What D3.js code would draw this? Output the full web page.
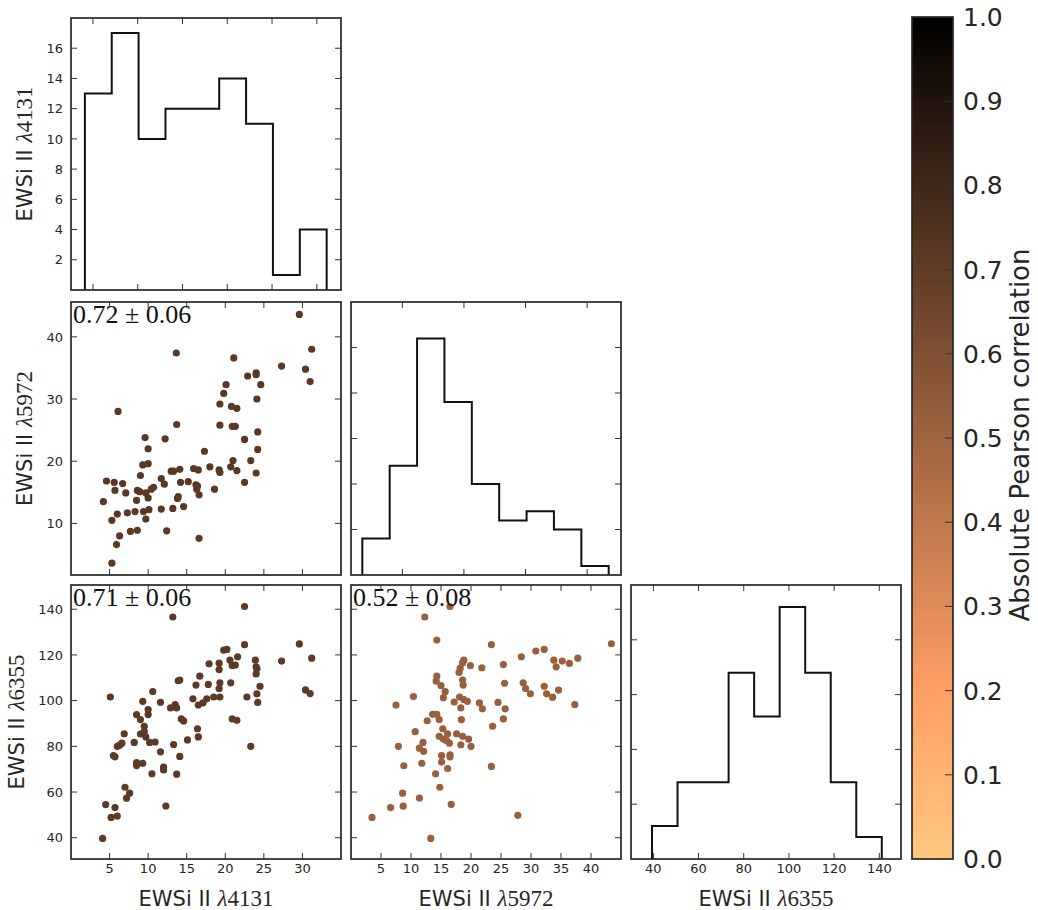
<!DOCTYPE html>
<html><head><meta charset="utf-8">
<script src="https://cdn.jsdelivr.net/npm/d3@7"></script>
<style>body{margin:0;background:#fff}svg{display:block}</style>
</head><body><svg id="c" width="1038" height="910"></svg>
<script>
// ---------------- DATA ----------------
const varNames = ["4131", "5972", "6355"];

// histogram bin edges and counts (diagonal)
const edges4131 = [4.1, 7.1, 10.1, 13.1, 16.1, 19.1, 22.1, 25.1, 28.1, 31.1];
const counts4131 = [13, 17, 10, 12, 12, 14, 11, 1, 4];
const edges5972 = [3.5, 7.94, 12.39, 16.83, 21.28, 25.72, 30.17, 34.61, 39.06, 43.5];
const counts5972 = [4, 12, 26, 19, 10, 6, 7, 5, 1];
const edges6355 = [39.4, 50.7, 62.0, 73.3, 84.6, 95.9, 107.2, 118.5, 129.8, 141.1];
const counts6355 = [3, 7, 7, 17, 13, 23, 17, 7, 2];

// scatter: EWSi II 5972 vs 4131
const pts5972v4131 = [
 [29.6,43.6],[31.2,38.0],[30.4,34.8],[31.0,32.8],[27.3,35.3],[13.65,37.4],[21.1,36.6],[24.0,34.2],
 [24.0,33.9],[22.9,33.7],[24.6,32.3],[20.1,32.3],[19.8,30.9],[24.1,30.0],[19.3,29.2],[20.8,28.8],
 [21.5,28.5],[19.3,25.8],[20.9,25.6],[21.3,25.6],[13.7,25.9],[24.2,24.7],[22.5,23.5],[12.2,23.6],
 [9.6,23.8],[10.0,22.0],[24.2,21.9],[17.3,21.6],[23.3,20.1],[21.0,20.1],[20.7,19.1],[21.5,18.5],
 [18.0,19.1],[19.2,18.6],[19.3,18.2],[24.0,18.1],[15.9,18.8],[16.5,18.6],[14.1,18.7],[13.0,18.4],
 [13.3,18.4],[9.3,19.4],[10.0,19.6],[11.7,17.2],[9.0,17.7],[12.1,16.3],[14.2,16.6],[15.2,16.7],
 [16.2,16.2],[22.5,16.6],[18.6,15.5],[16.3,15.5],[16.6,14.6],[13.9,14.3],[13.8,14.0],[10.7,15.8],
 [10.4,15.5],[8.6,15.3],[8.9,15.1],[9.7,14.9],[10.0,14.1],[8.5,13.7],[4.6,16.8],[5.6,16.6],
 [6.7,16.4],[5.7,15.3],[7.1,14.9],[4.2,13.5],[6.0,11.5],[7.3,11.7],[8.3,11.9],[9.4,11.9],
 [10.1,12.2],[11.7,12.3],[13.2,12.4],[14.6,12.7],[5.3,10.5],[9.7,10.7],[7.7,8.7],[8.6,8.9],
 [12.4,8.8],[6.3,8.0],[5.9,6.6],[16.6,7.6],[6.1,28.0],[5.3,3.6],[16.4,16.0]
];
// scatter: EWSi II 6355 vs 4131
const pts6355v4131 = [
 [22.5,141.2],[13.2,136.6],[29.6,124.8],[22.5,124.5],[19.8,122.1],[20.2,122.4],[17.9,116.1],[19.2,116.4],
 [19.2,113.6],[20.6,117.7],[20.9,115.4],[21.3,115.6],[21.6,119.2],[23.9,117.7],[24.0,114.8],[24.1,113.9],
 [24.0,111.7],[27.3,117.3],[31.2,118.6],[30.4,104.7],[31.0,103.1],[24.5,106.3],[24.1,103.0],[24.2,99.2],
 [22.8,101.6],[20.7,107.8],[19.3,107.8],[19.2,105.3],[19.3,101.6],[18.5,101.6],[17.8,107.1],[16.7,110.7],
 [16.2,106.8],[15.8,100.8],[16.5,98.1],[17.1,99.0],[17.6,100.8],[13.9,108.7],[14.1,109.0],[10.6,104.0],
 [11.6,99.3],[13.5,98.3],[12.9,96.8],[13.7,96.8],[14.3,92.0],[14.6,91.1],[10.0,96.1],[10.0,93.9],
 [9.3,99.7],[8.5,93.9],[9.0,91.7],[9.5,88.8],[9.5,86.6],[9.0,85.4],[9.7,84.1],[10.2,81.7],
 [10.9,81.9],[8.2,81.7],[6.9,85.5],[6.6,81.4],[6.0,80.0],[5.5,76.0],[5.7,75.4],[13.3,80.8],
 [15.1,82.8],[11.6,77.6],[14.1,75.6],[16.5,84.1],[16.4,87.7],[20.9,92.0],[21.5,91.4],[23.3,80.0],
 [8.5,72.9],[8.5,71.6],[9.3,72.6],[12.0,70.9],[12.0,69.7],[10.5,68.0],[13.7,67.8],[7.0,62.1],
 [7.6,59.5],[7.2,57.3],[12.3,53.9],[4.5,54.5],[5.7,53.2],[5.2,48.9],[6.0,49.5],[4.1,39.7],
 [5.1,101.6],[6.3,80.5]
];
// scatter: EWSi II 6355 vs 5972
const pts6355v5972 = [
 [43.4,124.9],[16.5,141.2],[12.3,136.6],[14.3,126.5],[23.4,124.5],[30.8,121.7],[32.2,122.4],[28.4,119.2],
 [33.8,117.7],[35.2,117.3],[34.2,114.8],[36.4,116.3],[37.8,118.6],[18.8,117.7],[18.6,116.6],[19.9,115.3],
 [18.2,114.2],[18.0,112.3],[21.8,114.4],[25.4,115.8],[14.3,110.7],[14.2,108.5],[15.0,106.6],[15.7,104.0],
 [15.4,101.3],[18.6,109.0],[18.7,106.8],[25.6,107.6],[28.7,107.8],[29.1,105.3],[29.9,103.0],[32.2,106.3],
 [32.6,103.0],[33.6,101.5],[34.6,104.6],[37.3,98.3],[10.4,101.8],[7.5,98.1],[17.2,99.4],[18.1,101.6],
 [18.8,100.5],[19.4,99.7],[18.3,96.8],[21.4,99.0],[21.9,96.4],[24.5,99.2],[25.7,96.4],[25.4,92.0],
 [23.6,88.8],[13.6,94.0],[14.3,94.0],[14.7,91.7],[12.7,91.2],[18.4,91.7],[15.3,87.7],[16.1,85.5],
 [14.7,84.4],[15.4,83.2],[16.4,81.4],[15.9,82.6],[17.6,85.5],[18.6,84.4],[19.6,83.2],[18.3,80.7],
 [20.0,80.0],[10.7,86.4],[12.0,81.7],[11.4,79.2],[12.1,77.8],[7.9,80.0],[15.1,76.0],[16.5,76.3],
 [15.1,73.1],[16.5,75.4],[11.8,72.6],[8.8,71.5],[16.1,70.3],[14.1,68.0],[23.4,71.2],[14.8,62.1],
 [8.6,59.5],[11.4,57.4],[6.6,53.2],[8.7,53.8],[16.7,54.6],[3.5,48.9],[27.8,49.8],[13.3,39.7]
];

const corrValues = [0.72, 0.71, 0.52];
const corrErrors = [0.06, 0.06, 0.08];

// ticks
const ticks4131Hist = [5, 10, 15, 20, 25, 30];
const ticksCount4131 = [2, 4, 6, 8, 10, 12, 14, 16];
const ticks4131 = [5, 10, 15, 20, 25, 30];
const ticks5972Left = [10, 20, 30, 40];
const ticks5972Hist = [10, 20, 30, 40];
const ticksCount5972 = [5, 10, 15, 20, 25];
const ticks5972Bottom = [5, 10, 15, 20, 25, 30, 35, 40];
const ticks6355 = [40, 60, 80, 100, 120, 140];
const ticksCount6355 = [5, 10, 15, 20];
const cbarTicks = [0.0, 0.1, 0.2, 0.3, 0.4, 0.5, 0.6, 0.7, 0.8, 0.9, 1.0];
const cbarTitle = "Absolute Pearson correlation";

// ---------------- DRAW ----------------
const svg = d3.select("#c");
const AX = "#262626";
const SANS = "DejaVu Sans, sans-serif";
const SERIF = "Liberation Serif, Times New Roman, serif";

// copper_r colormap
function copperR(v) {
  const c = 1 - v;
  return d3.rgb(Math.min(1, 1.25 * c) * 255, 0.7812 * c * 255, 0.4975 * c * 255).formatHex();
}

const colX = [[71, 341], [351, 621], [631, 901]];
const rowY = [[18, 290], [302, 575], [585, 859]];

function panel(r, c, xdom, ydom) {
  const x = d3.scaleLinear().domain(xdom).range(colX[c]);
  const y = d3.scaleLinear().domain(ydom).range([rowY[r][1], rowY[r][0]]);
  const g = svg.append("g");
  return {x, y, g, x0: colX[c][0], x1: colX[c][1], y0: rowY[r][0], y1: rowY[r][1]};
}

function frame(p, xt, yt, xLabels, yLabels) {
  const tl = 6;
  const tg = p.g.append("g").attr("stroke", "#333").attr("stroke-width", 1);
  xt.forEach(v => {
    const xx = p.x(v);
    tg.append("line").attr("x1", xx).attr("x2", xx).attr("y1", p.y1).attr("y2", p.y1 - tl);
    tg.append("line").attr("x1", xx).attr("x2", xx).attr("y1", p.y0).attr("y2", p.y0 + tl);
  });
  yt.forEach(v => {
    const yy = p.y(v);
    tg.append("line").attr("x1", p.x0).attr("x2", p.x0 + tl).attr("y1", yy).attr("y2", yy);
    tg.append("line").attr("x1", p.x1).attr("x2", p.x1 - tl).attr("y1", yy).attr("y2", yy);
  });
  if (xLabels) xt.forEach(v => {
    p.g.append("text").attr("x", p.x(v)).attr("y", p.y1 + 14).attr("text-anchor", "middle")
      .attr("font-family", SANS).attr("font-size", 13).attr("fill", AX).text(v);
  });
  if (yLabels) yt.forEach(v => {
    p.g.append("text").attr("x", p.x0 - 8).attr("y", p.y(v)).attr("dy", "0.36em").attr("text-anchor", "end")
      .attr("font-family", SANS).attr("font-size", 13).attr("fill", AX).text(v);
  });
  p.g.append("rect").attr("x", p.x0).attr("y", p.y0).attr("width", p.x1 - p.x0).attr("height", p.y1 - p.y0)
    .attr("fill", "none").attr("stroke", AX).attr("stroke-width", 1.7);
}

function hist(p, edges, counts) {
  const pts = [[edges[0], 0]];
  counts.forEach((cnt, i) => { pts.push([edges[i], cnt]); pts.push([edges[i + 1], cnt]); });
  pts.push([edges[edges.length - 1], 0]);
  p.g.append("path").attr("d", d3.line().x(d => p.x(d[0])).y(d => p.y(d[1]))(pts))
    .attr("fill", "none").attr("stroke", "#111").attr("stroke-width", 2);
}

function scatter(p, pts, corr, err) {
  const col = copperR(corr);
  p.g.append("g").selectAll("circle").data(pts).join("circle")
    .attr("cx", d => p.x(d[0])).attr("cy", d => p.y(d[1])).attr("r", 3.6).attr("fill", col);
  p.g.append("text").attr("x", p.x0 + 2).attr("y", p.y0 + 21)
    .attr("font-family", SERIF).attr("font-size", 26).attr("fill", "#111")
    .text(corr.toFixed(2) + " ± " + err.toFixed(2));
}

function mathLabel(sel, name) {
  sel.append("tspan").attr("font-family", SANS).attr("font-size", 21).text("EWSi II ");
  sel.append("tspan").attr("font-family", SERIF).attr("font-style", "italic").attr("font-size", 23).text("λ");
  sel.append("tspan").attr("font-family", SERIF).attr("font-size", 23).text(name);
}

// row 0
const p00 = panel(0, 0, [2.55, 32.7], [0, 18]);
hist(p00, edges4131, counts4131);
frame(p00, ticks4131Hist, ticksCount4131, false, true);

// row 1
const p10 = panel(1, 0, [0, 35], [1.7, 45.6]);
scatter(p10, pts5972v4131, corrValues[0], corrErrors[0]);
frame(p10, ticks4131, ticks5972Left, false, true);

const p11 = panel(1, 1, [1.66, 45.5], [0, 30]);
hist(p11, edges5972, counts5972);
frame(p11, ticks5972Hist, ticksCount5972, false, false);

// row 2
const p20 = panel(2, 0, [0, 35], [30.7, 150.6]);
scatter(p20, pts6355v4131, corrValues[1], corrErrors[1]);
frame(p20, ticks4131, ticks6355, true, true);

const p21 = panel(2, 1, [0, 45], [30.7, 150.6]);
scatter(p21, pts6355v5972, corrValues[2], corrErrors[2]);
frame(p21, ticks5972Bottom, ticks6355, true, false);

const p22 = panel(2, 2, [30.1, 149.6], [0, 25]);
hist(p22, edges6355, counts6355);
frame(p22, ticks6355, ticksCount6355, true, false);

// axis titles
[0, 1, 2].forEach(c => {
  const t = svg.append("text").attr("x", (colX[c][0] + colX[c][1]) / 2).attr("y", 906)
    .attr("text-anchor", "middle").attr("fill", AX);
  mathLabel(t, varNames[c]);
});
const ylx = [26, 26, 18];
[0, 1, 2].forEach(r => {
  const cy = (rowY[r][0] + rowY[r][1]) / 2;
  const t = svg.append("text").attr("transform", `translate(${ylx[r]},${cy}) rotate(-90)`)
    .attr("dy", "0.36em").attr("text-anchor", "middle").attr("fill", AX);
  mathLabel(t, varNames[r]);
});

// colorbar
const cb = {x0: 912, x1: 953, y0: 17, y1: 859};
const cbScale = d3.scaleLinear().domain([0, 1]).range([cb.y1, cb.y0]);
const grad = svg.append("defs").append("linearGradient").attr("id", "cbg")
  .attr("x1", 0).attr("y1", 1).attr("x2", 0).attr("y2", 0);
d3.range(0, 1.0001, 0.02).forEach(v => {
  grad.append("stop").attr("offset", v).attr("stop-color", copperR(v));
});
svg.append("rect").attr("x", cb.x0).attr("y", cb.y0).attr("width", cb.x1 - cb.x0).attr("height", cb.y1 - cb.y0)
  .attr("fill", "url(#cbg)");
cbarTicks.forEach(v => {
  if (v > 0 && v < 1) svg.append("line").attr("x1", cb.x1 - 8).attr("x2", cb.x1)
    .attr("y1", cbScale(v)).attr("y2", cbScale(v)).attr("stroke", "#333").attr("stroke-width", 1);
  svg.append("text").attr("x", 963).attr("y", cbScale(v)).attr("dy", "0.36em")
    .attr("font-family", SANS).attr("font-size", 25).attr("fill", AX).text(v.toFixed(1));
});
svg.append("rect").attr("x", cb.x0).attr("y", cb.y0).attr("width", cb.x1 - cb.x0).attr("height", cb.y1 - cb.y0)
  .attr("fill", "none").attr("stroke", AX).attr("stroke-width", 1.7);
svg.append("text").attr("transform", `translate(1020,${(cb.y0 + cb.y1) / 2 - 3}) rotate(-90)`)
  .attr("dy", "0.36em").attr("text-anchor", "middle").attr("font-family", SANS).attr("font-size", 26)
  .attr("fill", AX).text(cbarTitle);
</script></body></html>
